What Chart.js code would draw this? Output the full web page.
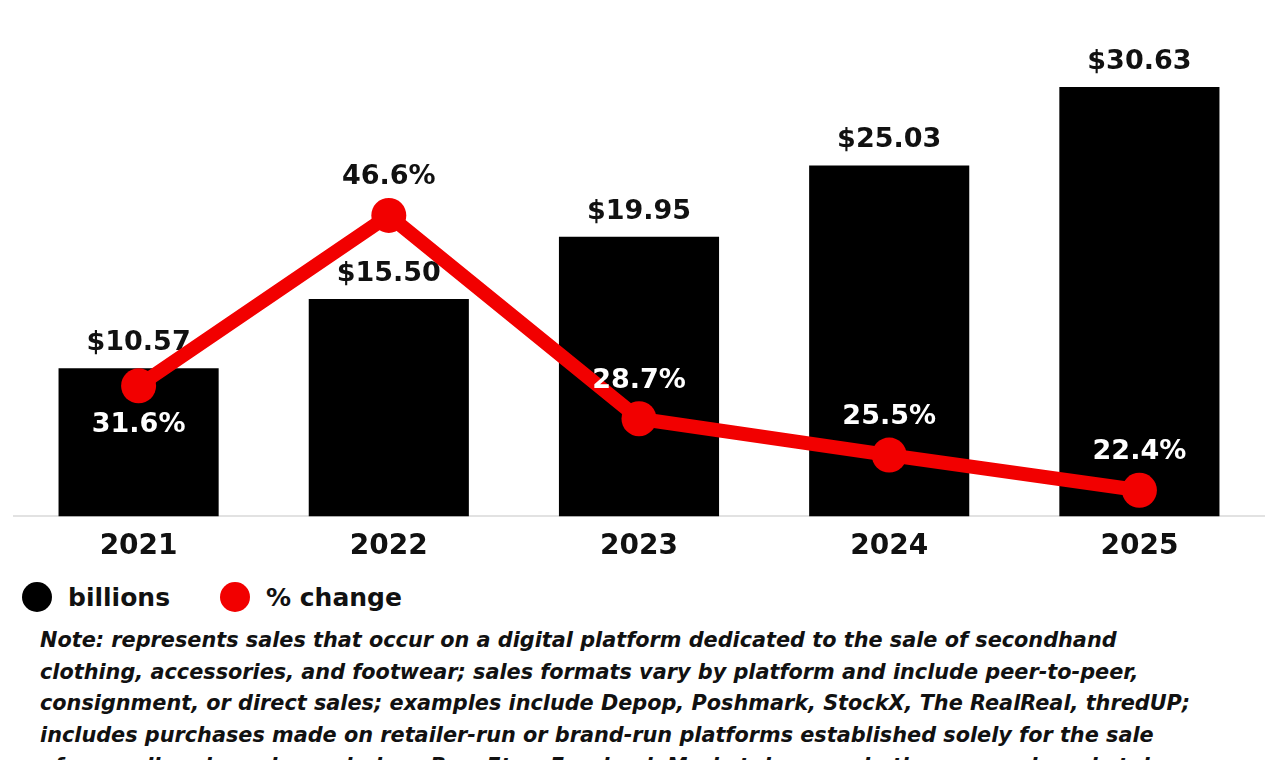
<!DOCTYPE html>
<html lang="en">
  <head>
    <meta charset="UTF-8">
    <title>Secondhand sales</title>
    <script src="https://cdn.jsdelivr.net/npm/chart.js"></script>
    <style>
      body { margin: 0; background: #fff; width: 1278px; height: 760px; overflow: hidden; position: relative; font-family: "DejaVu Sans", sans-serif; }
      #wrap { position: absolute; left: -4px; top: 0; width: 1286px; height: 570px; }
      #legend { position: absolute; left: 22px; top: 582px; display: flex; font-weight: bold; font-size: 25px; color: #111; }
      .item { display: flex; align-items: center; margin-right: 50px; }
      .dot { width: 30px; height: 30px; border-radius: 50%; margin-right: 16px; }
      #note { position: absolute; left: 40px; top: 625px; font-size: 20.8px; line-height: 31.5px; font-weight: bold; font-style: italic; color: #111; white-space: nowrap; }
    </style>
  </head>
  <body>
    <div id="wrap"><canvas id="chart"></canvas></div>
    <div id="legend"></div>
    <div id="note">Note: represents sales that occur on a digital platform dedicated to the sale of secondhand<br>clothing, accessories, and footwear; sales formats vary by platform and include peer-to-peer,<br>consignment, or direct sales; examples include Depop, Poshmark, StockX, The RealReal, thredUP;<br>includes purchases made on retailer-run or brand-run platforms established solely for the sale<br>of secondhand goods; excludes eBay, Etsy, Facebook Marketplace, and other general marketplaces</div>
    <script>
      var years = ['2021', '2022', '2023', '2024', '2025'];
      var salesBillions = [10.57, 15.50, 19.95, 25.03, 30.63];
      var pctChange = [31.6, 46.6, 28.7, 25.5, 22.4];

      var RED = '#f20000';
      var FONT = '"DejaVu Sans", sans-serif';

      // value labels: bar labels go under the line, line labels on top
      var labelPlugin = {
        id: 'valueLabels',
        afterDatasetDraw: function(chart, args) {
          if (args.index !== 0) return;
          var ctx = chart.ctx;
          ctx.save();
          ctx.font = 'bold 27px ' + FONT;
          ctx.fillStyle = '#111';
          ctx.textAlign = 'center';
          ctx.textBaseline = 'middle';
          args.meta.data.forEach(function(bar, i) {
            ctx.fillText('$' + salesBillions[i].toFixed(2), bar.x, bar.y - 25);
          });
          ctx.restore();
        },
        afterDatasetsDraw: function(chart) {
          var ctx = chart.ctx;
          var bars = chart.getDatasetMeta(0).data;
          ctx.save();
          ctx.font = 'bold 27px ' + FONT;
          ctx.textAlign = 'center';
          ctx.textBaseline = 'middle';
          chart.getDatasetMeta(1).data.forEach(function(pt, i) {
            var y = i === 0 ? pt.y + 39 : pt.y - 38;
            ctx.fillStyle = y > bars[i].y ? '#fff' : '#111';
            ctx.fillText(pctChange[i].toFixed(1) + '%', pt.x, y);
          });
          ctx.restore();
        }
      };

      var chart = new Chart(document.getElementById('chart'), {
        type: 'bar',
        data: {
          labels: years,
          datasets: [
            {
              label: 'billions',
              data: salesBillions,
              backgroundColor: '#000',
              barPercentage: 0.64,
              categoryPercentage: 1,
              yAxisID: 'y',
              order: 2
            },
            {
              type: 'line',
              label: '% change',
              data: pctChange,
              borderColor: RED,
              backgroundColor: RED,
              borderWidth: 14,
              borderCapStyle: 'round',
              borderJoinStyle: 'round',
              pointRadius: 17.5,
              pointHoverRadius: 17.5,
              pointBorderWidth: 0,
              pointBackgroundColor: RED,
              tension: 0,
              yAxisID: 'y1',
              order: 1
            }
          ]
        },
        options: {
          responsive: true,
          maintainAspectRatio: false,
          animation: false,
          layout: { padding: { left: 4, right: 5, top: 0, bottom: 0 } },
          plugins: {
            legend: { display: false },
            tooltip: { enabled: false }
          },
          scales: {
            x: {
              grid: { display: false },
              border: { display: true, color: '#e2e2e2', width: 2 },
              ticks: { color: '#111', padding: 6, font: { family: FONT, size: 28, weight: 'bold' } }
            },
            y: { display: false, min: 0, max: 35.58 },
            y1: { display: false, min: 20.1, max: 64.03 }
          }
        },
        plugins: [labelPlugin]
      });

      // legend built from the datasets
      var legend = document.getElementById('legend');
      chart.data.datasets.forEach(function(ds) {
        var item = document.createElement('div');
        item.className = 'item';
        var dot = document.createElement('span');
        dot.className = 'dot';
        dot.style.background = ds.type === 'line' ? ds.borderColor : ds.backgroundColor;
        item.appendChild(dot);
        item.appendChild(document.createTextNode(ds.label));
        legend.appendChild(item);
      });
    </script>
  </body>
</html>
